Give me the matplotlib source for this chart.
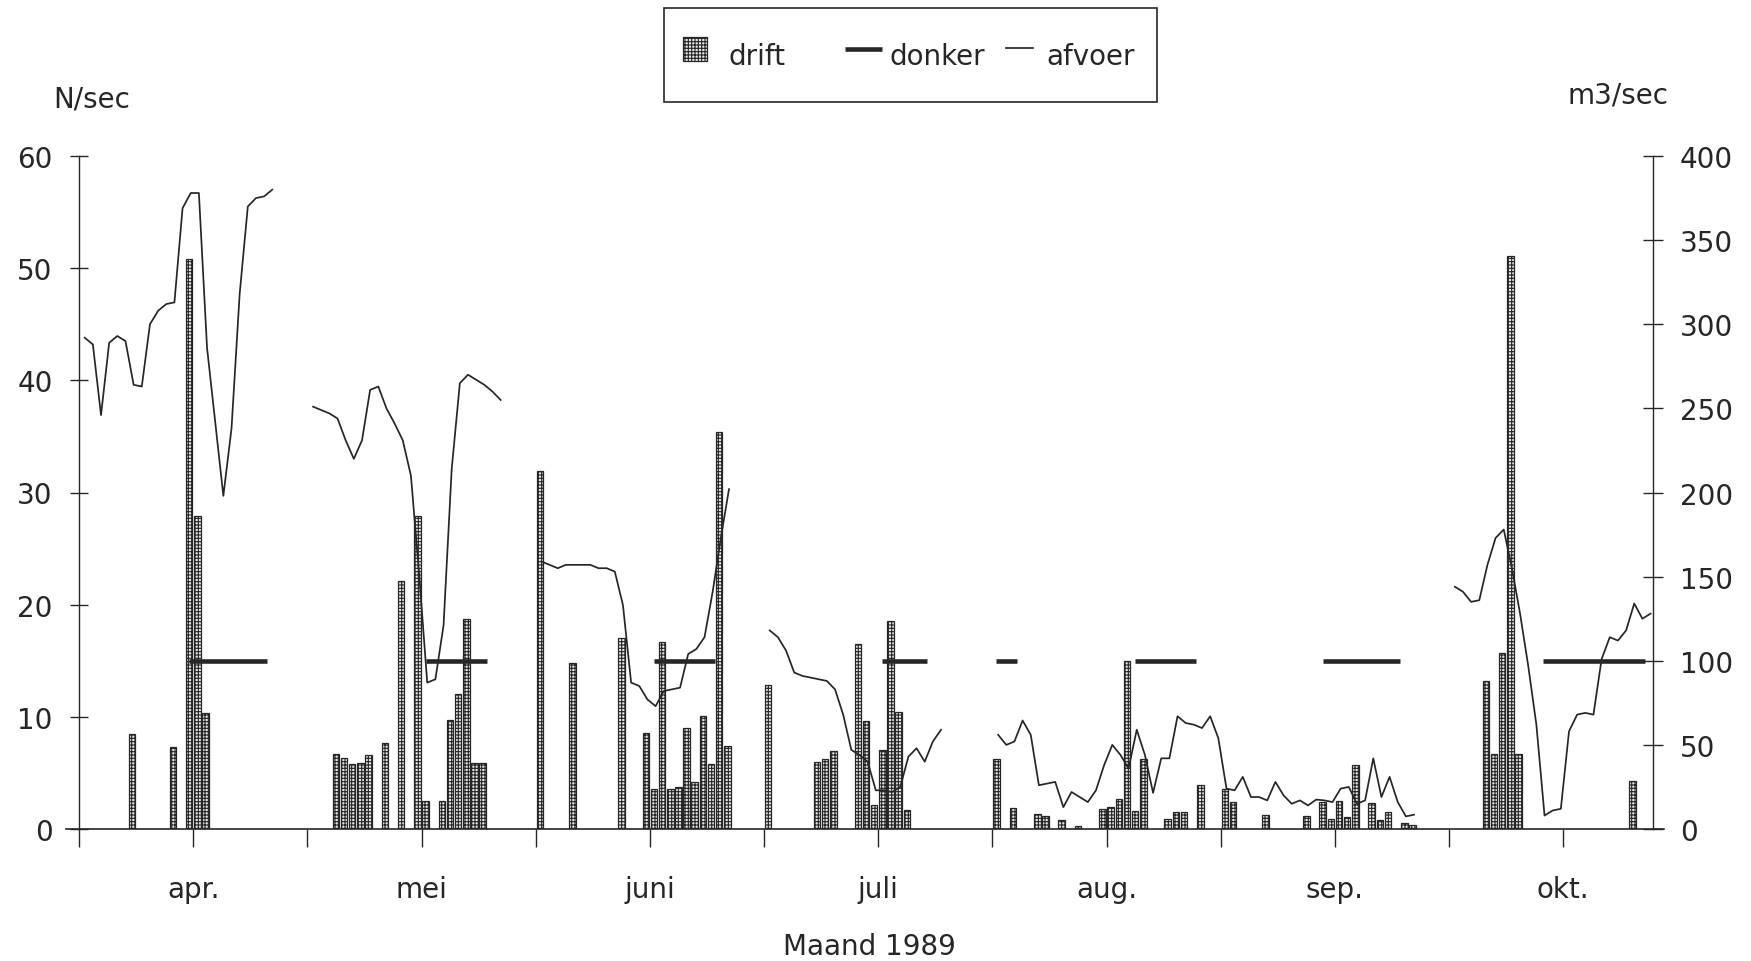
import numpy as np
import matplotlib
matplotlib.use("Agg")
import matplotlib.pyplot as plt
from matplotlib.patches import Rectangle
from matplotlib.lines import Line2D

plt.rcParams['font.family'] = ['DejaVu Sans']
plt.rcParams['hatch.linewidth'] = 0.8

INK = '#262626'
FS = 20
HATCH = '+++++'

# x axis: sampling slots, 14 per tick, one month label every 28 slots
months = ['apr.', 'mei', 'juni', 'juli', 'aug.', 'sep.', 'okt.']
n_slots = 193
tick_step = 14

# drift (N/sec, left axis)
drift_day = [6, 11, 13, 14, 15,
             31, 32, 33, 34, 35, 37, 39, 41, 42, 44, 45, 46, 47, 48, 49,
             56, 60, 66, 69, 70, 71, 72, 73, 74, 75, 76, 77, 78, 79,
             84, 90, 91, 92, 95, 96, 97, 98, 99, 100, 101,
             112, 114, 117, 118, 120, 122, 125, 126, 127, 128, 129, 130,
             133, 134, 135, 137, 140, 141, 145, 150, 152, 153, 154, 155,
             156, 158, 159, 160, 162, 163,
             172, 173, 174, 175, 176, 190]
drift_value = [8.5, 7.3, 50.8, 27.9, 10.3,
               6.65, 6.33, 5.8, 5.85, 6.57, 7.7, 22.1, 27.9, 2.5, 2.5, 9.76, 12.0, 18.7, 5.9, 5.9,
               31.9, 14.8, 17.0, 8.55, 3.55, 16.65, 3.6, 3.7, 9.0, 4.23, 10.1, 5.77, 35.4, 7.4,
               12.8, 6.0, 6.2, 6.94, 16.5, 9.6, 2.1, 7.0, 18.5, 10.4, 1.7,
               6.2, 1.9, 1.3, 1.2, 0.8, 0.3, 1.8, 2.0, 2.7, 15.0, 1.6, 6.2,
               0.9, 1.5, 1.5, 3.9, 3.6, 2.4, 1.25, 1.2, 2.4, 0.9, 2.5, 1.1,
               5.7, 2.3, 0.8, 1.5, 0.5, 0.4,
               13.2, 6.65, 15.7, 51.1, 6.7, 4.3]

# donker periods (drawn at level 15 on the left axis)
donker_level = 15
donker_from = [13.5, 42.5, 70.5, 98.5, 112.5, 129.5, 152.5, 179.5]
donker_to = [23.0, 50.0, 78.0, 104.0, 115.0, 137.0, 162.0, 192.0]

# afvoer (m3/sec, right axis), measured stretches with their first slot
afvoer_apr = [292, 288, 246, 289, 293, 290, 264, 263, 300, 308, 312, 313,
              369, 378, 378, 286, 242, 198, 238, 318, 370, 375, 376, 380]
afvoer_mei = [251, 249, 247, 244, 231, 220, 231, 261, 263, 250, 241, 231,
              210, 152, 87, 89, 121, 214, 265, 270, 267, 264, 260, 255]
afvoer_juni = [159, 157, 155, 157, 157, 157, 157, 155, 155, 153, 133, 87,
               85, 77, 73, 82, 83, 84, 104, 107, 114, 141, 173, 202]
afvoer_juli = [118, 114, 106, 93, 91, 90, 89, 88, 83, 68, 47, 44, 40, 23,
               23, 22, 25, 43, 48, 40, 52, 59]
afvoer_aug_sep = [56, 50, 52, 64.5, 56, 26, 27, 28, 13, 22, 19, 16, 23, 38,
                  50, 44, 36, 59, 44, 21.5, 42, 42, 67, 63, 62, 60, 67, 54,
                  24, 23, 31, 19, 19, 17, 28, 20, 15, 17, 14, 17.5, 17, 16,
                  24, 25, 15, 17, 42, 19, 31, 16, 7.5, 8.5]
afvoer_okt = [144, 141, 135, 136, 157, 173, 178, 155, 128, 97, 62, 8, 11,
              12, 58, 68, 69, 68, 101, 114, 112, 118, 134, 125, 128]
afvoer_start = [0, 28, 56, 84, 112, 168]
afvoer_parts = [afvoer_apr, afvoer_mei, afvoer_juni, afvoer_juli,
                afvoer_aug_sep, afvoer_okt]

W, H = 1751, 962
fig = plt.figure(figsize=(W / 100, H / 100), dpi=100)
ax_l, ax_r, ax_t, ax_b = 79, 1653, 157, 830
ax = fig.add_axes([ax_l / W, 1 - ax_b / H, (ax_r - ax_l) / W, (ax_b - ax_t) / H])
ax2 = ax.twinx()
ax.set_zorder(1)
ax2.set_zorder(2)
ax.patch.set_visible(False)
ax2.patch.set_visible(False)

# drift bars
ax.bar(np.asarray(drift_day) + 0.5, drift_value, width=0.8,
       facecolor='#e6e6e6', edgecolor=INK, hatch=HATCH, linewidth=0.9, zorder=2)

# donker periods
for a, b in zip(donker_from, donker_to):
    ax.plot([a, b], [donker_level, donker_level], color=INK, lw=3.3,
            solid_capstyle='butt', zorder=3)

# afvoer stretches
for start, part in zip(afvoer_start, afvoer_parts):
    x = np.arange(start, start + len(part)) + 0.7
    ax2.plot(x, part, color=INK, lw=1.25)

ax.set_xlim(0, n_slots)
ax.set_ylim(0, 60)
ax2.set_ylim(0, 400)

# baseline running slightly past both axes
ax.plot([-1.6, n_slots + 1.3], [0, 0], color=INK, lw=1.2, clip_on=False, zorder=4)

for a in (ax, ax2):
    for s in ('top', 'bottom'):
        a.spines[s].set_visible(False)
ax.spines['right'].set_visible(False)
ax2.spines['left'].set_visible(False)
ax.spines['left'].set_color(INK)
ax2.spines['right'].set_color(INK)
ax.spines['left'].set_linewidth(1.0)
ax2.spines['right'].set_linewidth(1.0)

xt = np.arange(0, n_slots, tick_step)
xl = [months[(i - 1) // 2] if i % 2 == 1 else '' for i in range(len(xt))]
ax.set_xticks(xt)
ax.set_xticklabels(xl)
ax.tick_params(axis='x', direction='out', length=13, width=1, color=INK,
               pad=20, labelsize=FS, labelcolor=INK)

ax.set_yticks(np.arange(0, 61, 10))
ax.tick_params(axis='y', direction='inout', length=13, width=1, color=INK,
               pad=12.5, labelsize=FS, labelcolor=INK)
ax2.set_yticks(np.arange(0, 401, 50))
ax2.tick_params(axis='y', direction='inout', length=14, width=1, color=INK,
                pad=12.5, labelsize=FS, labelcolor=INK)

# axis titles
fig.text(53.6 / W, 1 - 108 / H, 'N/sec', fontsize=FS, color=INK, ha='left', va='baseline')
fig.text(1567 / W, 1 - 104 / H, 'm3/sec', fontsize=FS, color=INK, ha='left', va='baseline')
fig.text(869 / W, 1 - 955 / H, 'Maand 1989', fontsize=FS, color=INK, ha='center', va='baseline')

# legend
fig.add_artist(Rectangle((664 / W, 1 - 103 / H), (1157 - 664) / W, (103 - 9) / H,
                         transform=fig.transFigure, fill=False, edgecolor=INK, lw=1.2))
fig.add_artist(Rectangle((683 / W, 1 - 62 / H), 24 / W, 24 / H, transform=fig.transFigure,
                         facecolor='#e6e6e6', edgecolor=INK, hatch=HATCH, lw=0.9))
fig.text(728 / W, 1 - 65 / H, 'drift', fontsize=FS, color=INK, ha='left', va='baseline')
fig.add_artist(Line2D([845 / W, 882 / W], [1 - 50 / H, 1 - 50 / H], transform=fig.transFigure,
                      color=INK, lw=3.3, solid_capstyle='butt'))
fig.text(889 / W, 1 - 65 / H, 'donker', fontsize=FS, color=INK, ha='left', va='baseline')
fig.add_artist(Line2D([1006 / W, 1033 / W], [1 - 49 / H, 1 - 49 / H], transform=fig.transFigure,
                      color=INK, lw=1.25))
fig.text(1046 / W, 1 - 65 / H, 'afvoer', fontsize=FS, color=INK, ha='left', va='baseline')

fig.savefig('out.png', dpi=100)
